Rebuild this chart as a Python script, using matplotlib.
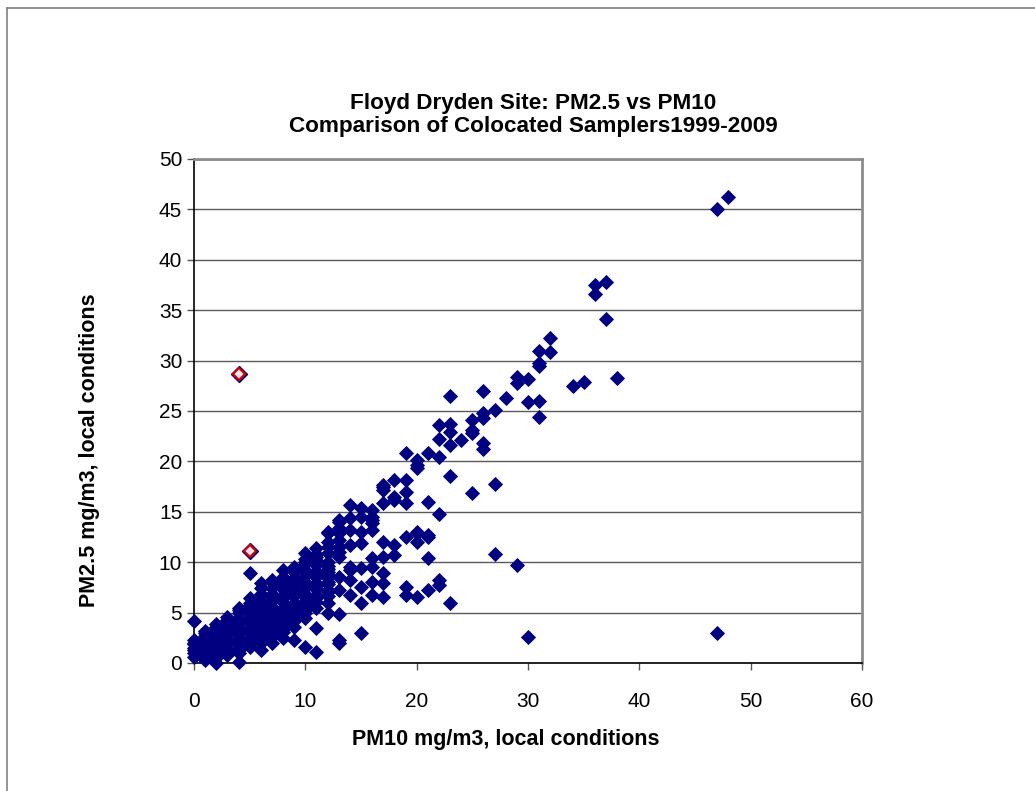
import matplotlib
matplotlib.use("Agg")
import matplotlib.pyplot as plt
from matplotlib.lines import Line2D

plt.rcParams['font.family'] = ['Liberation Sans', 'DejaVu Sans']

title = "Floyd Dryden Site: PM2.5 vs PM10\nComparison of Colocated Samplers1999-2009"
xlabel = "PM10 mg/m3, local conditions"
ylabel = "PM2.5 mg/m3, local conditions"
xticks = [0, 10, 20, 30, 40, 50, 60]
yticks = [0, 5, 10, 15, 20, 25, 30, 35, 40, 45, 50]

# main series: dense low-concentration cluster (PM10 integer readings)
cluster_pm10 = ([0] * 8 + [1] * 12 + [2] * 13 + [3] * 14 + [4] * 16 + [5] * 17 +
                [6] * 18 + [7] * 18 + [8] * 18 + [9] * 17 + [10] * 18 + [11] * 17 +
                [12] * 18 + [13] * 13)
cluster_pm25 = [
    0.6, 1.0, 1.3, 1.5, 1.9, 2.0, 2.3, 4.2,                                        # 0
    0.3, 0.6, 0.8, 1.2, 1.4, 1.6, 2.0, 2.2, 2.4, 2.7, 3.0, 3.2,                    # 1
    0.0, 0.5, 0.8, 1.0, 1.5, 1.8, 2.0, 2.5, 2.8, 3.0, 3.3, 3.6, 3.9,               # 2
    0.8, 1.1, 1.3, 1.8, 2.1, 2.3, 2.8, 3.1, 3.3, 3.8, 4.1, 4.3, 4.6, 3.6,          # 3
    0.1, 1.0, 1.3, 1.5, 2.0, 2.3, 2.5, 3.0, 3.3, 3.5, 4.0, 4.3, 4.5, 5.0, 5.3, 5.5,  # 4
    1.6, 2.0, 2.3, 2.5, 3.0, 3.3, 3.5, 4.0, 4.3, 4.5, 5.0, 5.3, 5.5, 6.0, 6.4, 5.8, 8.9,  # 5
    1.3, 2.0, 2.3, 2.6, 2.9, 3.2, 3.5, 3.8, 4.1, 4.4, 4.7, 5.0, 5.6, 5.9, 6.2, 6.8, 7.4, 7.9,  # 6
    2.0, 2.6, 2.9, 3.2, 3.5, 3.8, 4.1, 4.4, 4.7, 5.0, 5.3, 5.6, 6.2, 6.5, 6.8, 7.4, 8.0, 8.2,  # 7
    2.5, 3.1, 3.4, 3.7, 4.0, 4.3, 4.6, 4.9, 5.2, 5.5, 6.1, 6.4, 6.7, 7.3, 7.6, 7.9, 8.5, 9.2,  # 8
    2.3, 3.6, 4.2, 4.5, 4.8, 5.1, 5.4, 5.7, 6.0, 6.6, 6.9, 7.2, 7.8, 8.1, 8.4, 9.0, 9.5,  # 9
    1.6, 4.5, 5.0, 5.3, 5.6, 5.9, 6.2, 6.5, 6.8, 7.4, 7.7, 8.0, 8.6, 9.2, 9.8, 10.3, 10.9, 10.0,  # 10
    1.1, 3.5, 5.5, 6.1, 6.4, 6.7, 7.3, 7.6, 7.9, 8.5, 8.8, 9.1, 9.7, 10.2, 10.8, 11.4, 10.5,  # 11
    5.0, 6.0, 6.6, 7.0, 7.2, 7.8, 8.0, 8.4, 8.7, 9.0, 9.3, 9.6, 10.0, 10.9, 11.5, 12.0, 12.9, 13.0,  # 12
    2.0, 2.3, 4.9, 7.2, 8.5, 10.5, 11.0, 11.5, 12.2, 12.9, 13.4, 14.0, 14.2,       # 13
]

# main series: higher readings
high_pm10 = ([14] * 8 + [15] * 8 + [16] * 9 + [17] * 9 + [18] * 5 + [19] * 7 +
             [20] * 7 + [21] * 6 + [22] * 6 + [23] * 6 + [24] * 1 + [25] * 4 +
             [26] * 5 + [27] * 3 + [28] * 1 + [29] * 3 + [30] * 3 + [31] * 5 +
             [32] * 2 + [34] * 1 + [35] * 1 + [36] * 2 + [37] * 2 + [38] * 1 +
             [47] * 2 + [48] * 1)
high_pm25 = [
    15.7, 14.4, 13.2, 11.7, 9.2, 8.2, 6.7, 9.5,                     # 14
    15.4, 14.5, 13.0, 11.9, 9.4, 7.5, 6.0, 3.0,                     # 15
    15.2, 14.2, 13.9, 13.2, 10.4, 9.5, 8.0, 6.7, 14.5,              # 16
    17.5, 17.7, 17.2, 15.9, 12.0, 10.5, 8.9, 7.9, 6.5,              # 17
    18.2, 16.5, 16.2, 11.7, 10.7,                                   # 18
    20.8, 18.2, 17.0, 15.9, 12.5, 7.5, 6.7,                         # 19
    20.1, 19.3, 19.6, 13.0, 12.0, 12.9, 6.5,                        # 20
    20.8, 16.0, 12.5, 10.4, 7.2, 12.7,                              # 21
    23.6, 22.2, 20.4, 14.8, 8.2, 7.7,                               # 22
    26.5, 23.7, 22.9, 21.6, 18.6, 6.0,                              # 23
    22.1,                                                           # 24
    24.1, 23.1, 22.8, 16.9,                                         # 25
    27.0, 24.8, 24.3, 21.8, 21.2,                                   # 26
    25.1, 17.8, 10.8,                                               # 27
    26.3,                                                           # 28
    28.4, 27.8, 9.7,                                                # 29
    28.2, 25.9, 2.6,                                                # 30
    31.0, 29.8, 29.5, 26.0, 24.4,                                   # 31
    32.2, 30.9,                                                     # 32
    27.5,                                                           # 34
    27.9,                                                           # 35
    37.5, 36.6,                                                     # 36
    37.8, 34.1,                                                     # 37
    28.3,                                                           # 38
    45.0, 3.0,                                                      # 47
    46.2,                                                           # 48
]

# flagged samples (highlighted markers)
flag_pm10 = [4, 5]
flag_pm25 = [28.7, 11.1]

pm10 = cluster_pm10 + high_pm10
pm25 = cluster_pm25 + high_pm25

W, H = 1035, 791
fig = plt.figure(figsize=(W / 100, H / 100), dpi=100)
fig.patch.set_facecolor('white')

# outer chart border (left and top visible)
fig.add_artist(Line2D([7 / W, 7 / W], [0, 1 - 8 / H], transform=fig.transFigure,
                      color='#808080', lw=1.2))
fig.add_artist(Line2D([7 / W, 1], [1 - 8 / H, 1 - 8 / H], transform=fig.transFigure,
                      color='#808080', lw=1.2))

L, R, T, B = 194, 862, 159, 663
ax = fig.add_axes([L / W, 1 - B / H, (R - L) / W, (B - T) / H])
ax.set_xlim(0, 60)
ax.set_ylim(0, 50)
ax.set_xticks(xticks)
ax.set_yticks(yticks)
ax.set_xticklabels([str(v) for v in xticks])
ax.set_yticklabels([str(v) for v in yticks])

ax.yaxis.grid(True, color='#5a5a5a', lw=1.0)
ax.set_axisbelow(True)

for s in ['left', 'bottom']:
    ax.spines[s].set_color('black')
    ax.spines[s].set_linewidth(1.2)
for s in ['top', 'right']:
    ax.spines[s].set_color('#8c8c8c')
    ax.spines[s].set_linewidth(2.0)

ax.tick_params(axis='both', direction='out', length=5, width=1, color='#555555',
               labelsize=15, labelcolor='black')
ax.tick_params(axis='x', pad=16)
ax.tick_params(axis='y', pad=3.5)

ax.plot(pm10, pm25, linestyle='none', marker='D', markersize=7.4,
        markerfacecolor='#000080', markeredgecolor='#000080', markeredgewidth=0.6,
        clip_on=False, zorder=3)
ax.plot(flag_pm10, flag_pm25, linestyle='none', marker='D', markersize=8.2,
        markerfacecolor='#000080', markeredgecolor='#000080', zorder=4)
ax.plot(flag_pm10, flag_pm25, linestyle='none', marker='D', markersize=5.8,
        markerfacecolor='#f4e6e6', markeredgecolor='#d40000', markeredgewidth=1.5,
        zorder=5)

fig.text(533 / W, 1 - 115 / H, title, ha='center', va='center',
         fontsize=16.2, fontweight='bold', linespacing=1.12)
fig.text(506 / W, 1 - 740 / H, xlabel, ha='center', va='center',
         fontsize=15.5, fontweight='bold')
fig.text(90 / W, 1 - 450 / H, ylabel, ha='center', va='center', rotation=90,
         fontsize=15.5, fontweight='bold')

fig.savefig('out.png', dpi=100, facecolor='white')
